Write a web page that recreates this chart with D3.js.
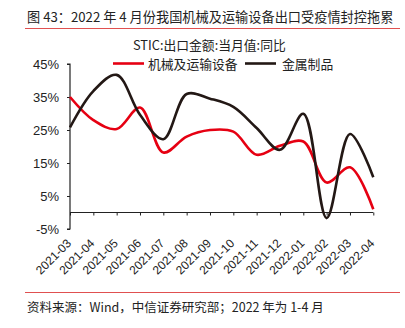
<!DOCTYPE html>
<html><head><meta charset="utf-8">
<script src="https://cdn.jsdelivr.net/npm/d3@7/dist/d3.min.js"></script>
<style>body{margin:0;background:#fff;}svg{display:block;font-family:"Liberation Sans",Arial,"Noto Sans CJK SC",sans-serif;}</style>
</head><body>
<svg id="c" width="405" height="328"></svg>
<script>
const categories = ["2021-03","2021-04","2021-05","2021-06","2021-07","2021-08","2021-09","2021-10","2021-11","2021-12","2022-01","2022-02","2022-03","2022-04"];
const machinery = [35, 28, 25.3, 31.8, 18.2, 23, 25, 24.5, 17.5, 20.2, 21.5, 9.1, 13.7, 1];
const metal = [25.8, 36.8, 41.7, 29.6, 22.2, 35.9, 34.5, 32, 25.6, 19, 29.9, -1.7, 23.8, 10.7];
const yTicks = [-5, 5, 15, 25, 35, 45];
const seriesNames = ["机械及运输设备", "金属制品"];
const legendTitle = "STIC:出口金额:当月值:同比";
const title = "图 43：2022 年 4 月份我国机械及运输设备出口受疫情封控拖累";
const source = "资料来源：Wind，中信证券研究部；2022 年为 1-4 月";

const svg = d3.select("#c");
const cjk = '"Noto Sans CJK SC","Liberation Sans",sans-serif';

svg.append("text").attr("x", 27).attr("y", 22).attr("font-size", 13.2).attr("font-family", cjk).attr("fill", "#222").text(title);
svg.append("line").attr("x1", 25).attr("x2", 400).attr("y1", 28.5).attr("y2", 28.5).attr("stroke", "#e05050").attr("stroke-width", 1);
svg.append("line").attr("x1", 25).attr("x2", 400).attr("y1", 292.5).attr("y2", 292.5).attr("stroke", "#e05050").attr("stroke-width", 1);
svg.append("text").attr("x", 27).attr("y", 312).attr("font-size", 12.5).attr("font-family", cjk).attr("fill", "#222").text(source);

const x = d3.scalePoint().domain(categories).range([70, 373.3]);
const y = d3.scaleLinear().domain([-5, 45]).range([229, 64]);

// y axis
const ya = svg.append("g").attr("transform", "translate(70,0)")
  .call(d3.axisLeft(y).tickValues(yTicks).tickFormat(d => d + "%").tickSize(3).tickPadding(8));
ya.select(".domain").attr("stroke", "#222").attr("stroke-width", 1.2).attr("d", `M-3,${y(-5)}H0V${y(45)}H-3`);
ya.selectAll(".tick line").attr("stroke", "#222");
ya.selectAll("text").attr("font-size", 13).attr("fill", "#222").attr("font-family", '"Liberation Sans",Arial,sans-serif');

// x axis at 0
const xa = svg.append("g").attr("transform", `translate(0,${y(0)})`)
  .call(d3.axisBottom(x).tickSize(3).tickFormat(""));
xa.select(".domain").attr("stroke", "#222").attr("stroke-width", 1.2).attr("d", `M70,0H373.3`);
xa.selectAll(".tick line").attr("stroke", "#222");

// x labels
svg.append("g").selectAll("text").data(categories).join("text")
  .attr("transform", d => `translate(${x(d) + 2},244) rotate(-45)`)
  .attr("text-anchor", "end").attr("font-size", 12).attr("fill", "#222")
  .attr("font-family", '"Liberation Sans",Arial,sans-serif')
  .text(d => d);

const line = d3.line().x((d, i) => x(categories[i])).y(d => y(d)).curve(d3.curveCatmullRom.alpha(0.5));
const colors = ["#e60012", "#231815"];
[machinery, metal].forEach((s, k) => {
  svg.append("path").attr("d", line(s)).attr("fill", "none").attr("stroke", colors[k]).attr("stroke-width", 2.6);
});

// legend
svg.append("text").attr("x", 133).attr("y", 49.5).attr("font-size", 12.8).attr("font-family", cjk).attr("fill", "#222").text(legendTitle);
const lx = [113, 245], tx = [148, 282];
seriesNames.forEach((n, k) => {
  svg.append("line").attr("x1", lx[k]).attr("x2", lx[k] + 31).attr("y1", 63.5).attr("y2", 63.5).attr("stroke", colors[k]).attr("stroke-width", 2.6);
  svg.append("text").attr("x", tx[k]).attr("y", 68.5).attr("font-size", 12.8).attr("font-family", cjk).attr("fill", "#222").text(n);
});
</script>
</body></html>
